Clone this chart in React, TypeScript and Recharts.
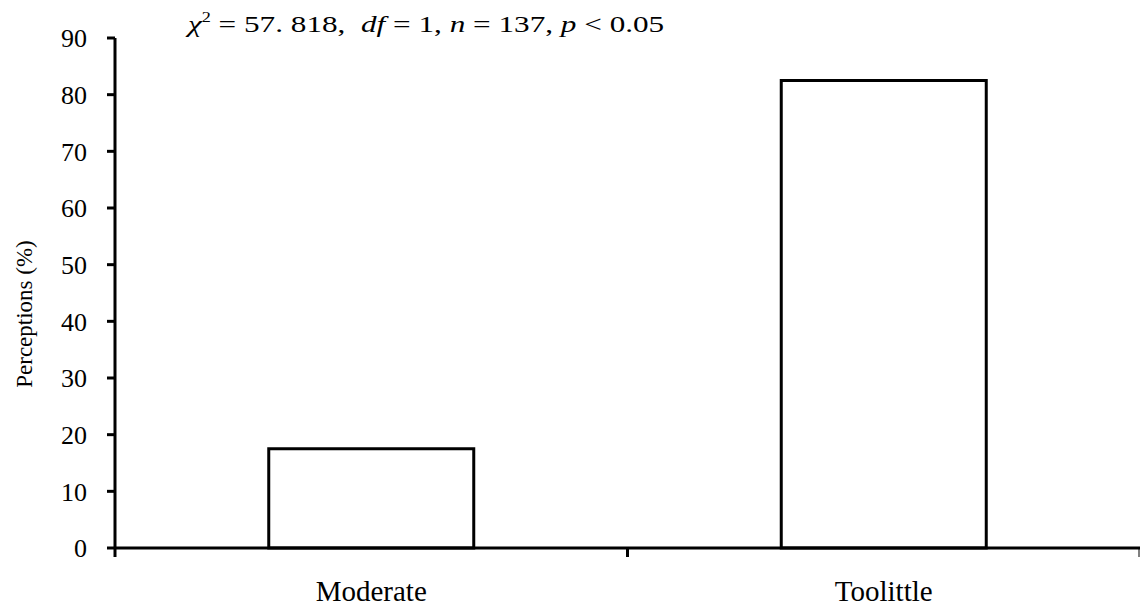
import { BarChart, Bar, XAxis, YAxis } from "recharts";

const categories = ["Moderate", "Toolittle"];
const perceptions = [17.5, 82.5];
const yTicks = [0, 10, 20, 30, 40, 50, 60, 70, 80, 90];

const data = categories.map((name, i) => ({ name, value: perceptions[i] }));

const CHART_W = 1141;
const CHART_H = 610;
const MARGIN = { top: 38, right: 1, bottom: 0, left: 0 };
const Y_AXIS_W = 115;
const X_AXIS_H = 62;
const FONT = "'Liberation Serif', 'Times New Roman', 'DejaVu Serif', serif";

const plotWidth = CHART_W - MARGIN.left - MARGIN.right - Y_AXIS_W;
const halfBand = plotWidth / categories.length / 2;

// category label at the band centre, tick marks on the band edges
const CategoryTick = (props: any) => {
  const { x, y, payload, index } = props;
  const axisY = y - 8;
  return (
    <g>
      <line x1={x - halfBand} x2={x - halfBand} y1={axisY} y2={axisY + 9} stroke="#000" strokeWidth={3} />
      {index === categories.length - 1 && (
        <line x1={x + halfBand - 1} x2={x + halfBand - 1} y1={axisY} y2={axisY + 9} stroke="#000" strokeWidth={1} />
      )}
      <text x={x} y={axisY + 53} textAnchor="middle" style={{ fontFamily: FONT }} fontSize={29} fill="#000">
        {payload.value}
      </text>
    </g>
  );
};

const YLabel = (props: any) => {
  const { viewBox } = props;
  const cx = viewBox.x + 24;
  const cy = viewBox.y + viewBox.height / 2 + 21;
  return (
    <text
      x={cx}
      y={cy}
      transform={`rotate(-90, ${cx}, ${cy})`}
      textAnchor="middle"
      dominantBaseline="central"
      style={{ fontFamily: FONT }}
      fontSize={23}
      fill="#000"
    >
      Perceptions (%)
    </text>
  );
};

export default function App() {
  return (
    <div style={{ position: "absolute", left: 0, top: 0, width: CHART_W, height: CHART_H, background: "#fff", fontFamily: FONT }}>
      <BarChart width={CHART_W} height={CHART_H} data={data} margin={MARGIN} barCategoryGap="30%">
        <XAxis
          dataKey="name"
          height={X_AXIS_H}
          axisLine={{ stroke: "#000", strokeWidth: 3 }}
          tickLine={false}
          tickSize={8}
          tickMargin={0}
          tick={<CategoryTick />}
          interval={0}
        />
        <YAxis
          width={Y_AXIS_W}
          domain={[0, 90]}
          ticks={yTicks}
          interval={0}
          axisLine={{ stroke: "#000", strokeWidth: 3 }}
          tickLine={{ stroke: "#000", strokeWidth: 3 }}
          tickSize={8}
          tickMargin={20}
          tick={{ style: { fontFamily: FONT }, fontSize: 26, fill: "#000" }}
          label={<YLabel />}
        />
        <Bar dataKey="value" fill="#fff" stroke="#000" strokeWidth={3} isAnimationActive={false} />
      </BarChart>
      <svg
        width={CHART_W}
        height={50}
        style={{ position: "absolute", left: 0, top: 0, pointerEvents: "none" }}
      >
        {/* statistics line, set a little wide */}
        <text
          transform="translate(188, 32) scale(1.3, 1)"
          style={{ fontFamily: FONT, whiteSpace: "pre" }}
          fontSize={24}
          fill="#000"
        >
          <tspan fontStyle="italic">χ</tspan>
          <tspan fontSize={14} dy={-10}>2</tspan>
          <tspan dy={10}> = 57. 818,  </tspan>
          <tspan fontStyle="italic">df</tspan>
          <tspan> = 1, </tspan>
          <tspan fontStyle="italic">n</tspan>
          <tspan> = 137, </tspan>
          <tspan fontStyle="italic">p</tspan>
          <tspan> &lt; 0.05</tspan>
        </text>
      </svg>
    </div>
  );
}
